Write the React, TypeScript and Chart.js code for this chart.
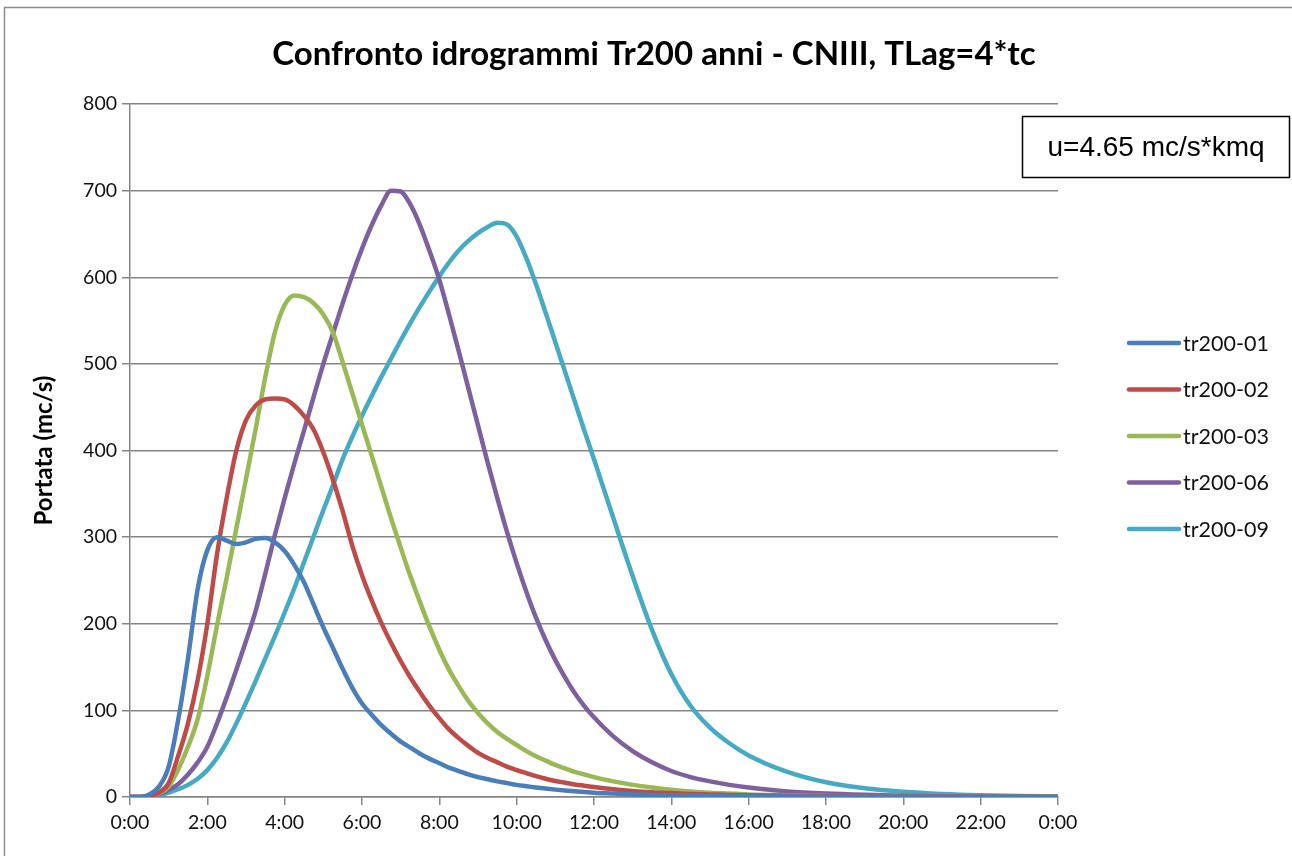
import React, { useEffect, useRef } from "react";
import { Chart, registerables } from "chart.js";

Chart.register(...registerables);

const TITLE = "Confronto idrogrammi Tr200 anni - CNIII, TLag=4*tc";
const Y_TITLE = "Portata (mc/s)";
const NOTE = "u=4.65 mc/s*kmq";

const hours = [
  0, 0.25, 0.5, 0.75, 1, 1.25, 1.5, 1.75, 2, 2.25, 2.5, 2.75, 3, 3.25, 3.5, 3.75,
  4, 4.25, 4.5, 4.75, 5, 5.25, 5.5, 5.75, 6, 6.25, 6.5, 6.75, 7, 7.25, 7.5, 7.75,
  8, 8.25, 8.5, 8.75, 9, 9.25, 9.5, 9.75, 10, 10.25, 10.5, 10.75, 11, 11.25, 11.5, 11.75,
  12, 12.5, 13, 13.5, 14, 14.5, 15, 15.5, 16, 17, 18, 19, 20, 21, 22, 23, 24,
];

const seriesNames = ["tr200-01", "tr200-02", "tr200-03", "tr200-06", "tr200-09"];
const seriesColors = ["#4A7EBB", "#BE4B48", "#98B954", "#7D60A0", "#46AAC5"];

const tr200_01 = [
  0, 0, 3, 12, 35, 90, 160, 240, 285, 300, 296, 292, 294, 298, 299, 294,
  284, 268, 248, 222, 196, 172, 148, 126, 108, 95, 83, 73, 64, 57, 50, 44,
  39, 34, 30, 26, 23, 20.5, 18, 16, 14, 12.5, 11, 9.7, 8.5, 7.5, 6.6, 5.8,
  5, 4, 3, 2.4, 1.9, 1.5, 1.2, 1, 0.8, 0.5, 0.3, 0.2, 0.1, 0, 0, 0, 0,
];
const tr200_02 = [
  0, 0, 1, 5, 16, 48, 85, 135, 200, 280, 345, 400, 435, 452, 459, 460,
  459, 452, 440, 424, 398, 366, 330, 290, 256, 227, 201, 178, 157, 138, 121, 105,
  91, 78, 68, 59, 51, 45, 40, 35, 31, 27.5, 24, 21, 18.5, 16.5, 14.5, 13,
  11.5, 9, 7, 5.5, 4.5, 3.6, 3, 2.4, 2, 1.3, 0.8, 0.5, 0.3, 0.2, 0.1, 0, 0,
];
const tr200_03 = [
  0, 0, 1, 4, 12, 32, 58, 90, 140, 198, 253, 310, 367, 425, 485, 537,
  568, 579, 577, 570, 557, 536, 502, 466, 430, 394, 358, 322, 288, 255, 225, 196,
  170, 147, 128, 111, 97, 85, 75, 67, 60, 53, 47, 42, 37, 33, 29, 26,
  23, 18, 14, 11, 8.5, 6.5, 5, 4, 3, 2, 1.2, 0.7, 0.4, 0.2, 0.1, 0, 0,
];
const tr200_06 = [
  0, 0, 1, 3, 8, 15, 26, 40, 58, 85, 115, 147, 180, 215, 258, 303,
  345, 385, 423, 462, 500, 535, 570, 603, 633, 660, 683, 700, 699, 684, 660, 630,
  597, 557, 515, 472, 429, 386, 345, 306, 270, 237, 207, 181, 158, 138, 120, 105,
  92, 70, 53, 40, 30, 23, 18, 14, 11, 6.5, 4, 2.5, 1.5, 0.8, 0.4, 0.2, 0,
];
const tr200_09 = [
  0, 0, 1, 2, 5, 9, 14, 21, 31, 45, 63, 85, 109, 134, 160, 186,
  213, 241, 271, 301, 331, 360, 390, 416, 440, 463, 485, 506, 527, 547, 566, 584,
  601, 617, 631, 642, 651, 658, 663, 661, 647, 622, 592, 559, 525, 491, 457, 423,
  390, 322, 255, 193, 142, 105, 80, 62, 48, 29, 17, 10, 6, 3.5, 2, 1.2, 0.8,
];

const seriesValues = [tr200_01, tr200_02, tr200_03, tr200_06, tr200_09];

const FONT = "Lato, 'Open Sans', sans-serif";

const overlayPlugin = {
  id: "overlay",
  afterDraw(chart: any) {
    const ctx = chart.ctx as CanvasRenderingContext2D;
    ctx.save();
    // outer frame
    ctx.strokeStyle = "#8c8c8c";
    ctx.lineWidth = 1.5;
    ctx.beginPath();
    ctx.moveTo(4.5, 900);
    ctx.lineTo(4.5, 7.5);
    ctx.lineTo(1300, 7.5);
    ctx.stroke();
    // title
    ctx.fillStyle = "#000";
    ctx.font = `bold 33px ${FONT}`;
    ctx.textAlign = "center";
    ctx.textBaseline = "middle";
    ctx.fillText(TITLE, 654, 54);
    // legend
    ctx.font = `21.5px ${FONT}`;
    ctx.textAlign = "left";
    chart.data.datasets.forEach((ds: any, i: number) => {
      const y = 343 + i * 46.5;
      ctx.strokeStyle = ds.borderColor;
      ctx.lineWidth = 4.5;
      ctx.lineCap = "round";
      ctx.beginPath();
      ctx.moveTo(1129, y);
      ctx.lineTo(1179, y);
      ctx.stroke();
      ctx.fillStyle = "#111";
      ctx.fillText(ds.label, 1183, y + 1);
    });
    // annotation box
    ctx.fillStyle = "#fff";
    ctx.fillRect(1022, 116, 267, 61);
    ctx.strokeStyle = "#000";
    ctx.lineWidth = 1.5;
    ctx.lineCap = "butt";
    ctx.strokeRect(1022.5, 116.5, 267, 61);
    ctx.fillStyle = "#000";
    ctx.font = "28px 'Liberation Sans', Arial, sans-serif";
    ctx.textAlign = "center";
    ctx.fillText(NOTE, 1156, 148);
    ctx.restore();
  },
};

export default function App() {
  const ref = useRef<HTMLCanvasElement | null>(null);

  useEffect(() => {
    if (!ref.current) return;
    const datasets = seriesNames.map((name, i) => ({
      label: name,
      data: hours.map((h, k) => ({ x: h, y: seriesValues[i][k] })),
      borderColor: seriesColors[i],
      backgroundColor: seriesColors[i],
      borderWidth: 4.5,
      pointRadius: 0,
      fill: false,
      cubicInterpolationMode: "monotone" as const,
    }));
    const chart = new Chart(ref.current, {
      type: "line",
      data: { datasets },
      options: {
        animation: false,
        responsive: false,
        devicePixelRatio: 1,
        layout: { padding: { left: 0, right: 234, top: 104, bottom: 0 } },
        plugins: {
          legend: { display: false },
          title: { display: false },
          tooltip: { enabled: false },
        },
        scales: {
          x: {
            type: "linear",
            min: 0,
            max: 24,
            afterFit: (s: any) => {
              s.height = 59;
            },
            afterBuildTicks: (s: any) => {
              s.ticks = [0, 2, 4, 6, 8, 10, 12, 14, 16, 18, 20, 22, 24].map((v) => ({ value: v }));
            },
            ticks: {
              autoSkip: false,
              maxRotation: 0,
              padding: 6,
              color: "#111",
              font: { family: FONT, size: 19.5 },
              callback: (v: any) => `${Number(v) % 24}:00`,
            },
            grid: {
              drawOnChartArea: false,
              drawTicks: true,
              tickLength: 8,
              color: "#868686",
              lineWidth: 1.5,
            },
            border: { display: true, color: "#868686", width: 1.5 },
          },
          y: {
            min: 0,
            max: 800,
            afterFit: (s: any) => {
              s.width = 130;
            },
            ticks: {
              stepSize: 100,
              padding: 5,
              color: "#111",
              font: { family: FONT, size: 19.5 },
            },
            grid: {
              color: "#868686",
              lineWidth: 1.5,
              tickLength: 8,
            },
            border: { display: true, color: "#868686", width: 1.5 },
            title: {
              display: true,
              text: Y_TITLE,
              color: "#000",
              font: { family: FONT, size: 24, weight: "bold" },
              padding: { top: 30, bottom: 0 },
            },
          },
        },
      },
      plugins: [overlayPlugin],
    });
    return () => chart.destroy();
  }, []);

  return (
    <div style={{ position: "fixed", left: 0, top: 0, width: 1292, height: 856, background: "#fff" }}>
      <canvas ref={ref} width={1292} height={856} style={{ width: 1292, height: 856, display: "block" }} />
    </div>
  );
}
